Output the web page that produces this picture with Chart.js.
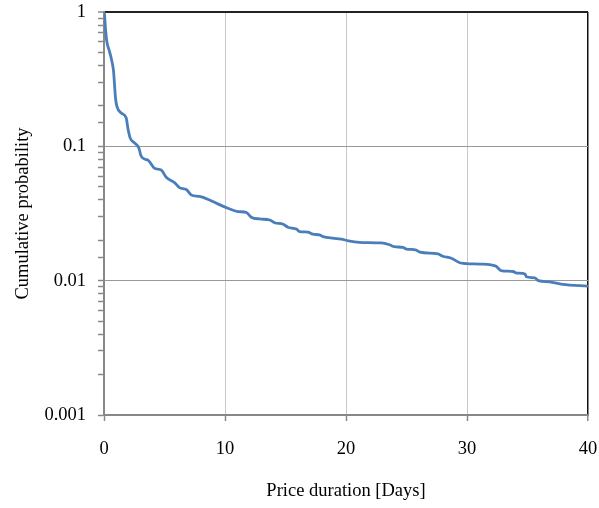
<!DOCTYPE html>
<html>
<head>
<meta charset="utf-8">
<script src="https://cdn.jsdelivr.net/npm/chart.js@4.4.1/dist/chart.umd.min.js"></script>
<style>
    html, body { margin: 0; padding: 0; background: #fff; }
    canvas { display: block; }
</style>
</head>
<body>
<canvas id="durationChart" width="599" height="508"></canvas>
<script>
// số liệu (ngày, xác suất tích lũy)
var days = [0, 0.04, 0.12, 0.23, 0.45, 0.68, 0.79, 0.87, 0.95, 1.06, 1.42, 1.83, 1.97, 2.16, 2.52, 2.88, 3.07, 3.49,
    3.62, 4.17, 4.73, 5.14, 5.83, 6.24, 6.8, 7.21, 7.9, 8.72, 9.41, 10.23, 11.06, 11.75, 12.17, 12.87, 13.7, 14.1,
    14.8, 15.2, 15.9, 16.17, 16.85, 17.26, 17.8, 18.1, 18.9, 19.6, 20.2, 21.1, 22.9, 23.6, 24.0, 24.7, 25.0, 25.8,
    26.1, 27.6, 28.0, 28.7, 29.4, 29.95, 31.06, 32.0, 32.4, 32.8, 33.8, 34.1, 34.8, 34.9, 35.6, 35.9, 36.8, 37.9, 40];
var probability = [1, 0.96, 0.76, 0.605, 0.51, 0.418, 0.362, 0.288, 0.229, 0.199, 0.177, 0.163, 0.137, 0.1156,
    0.106, 0.0973, 0.0844, 0.0796, 0.0792, 0.0687, 0.0667, 0.0589, 0.0537, 0.0493, 0.0477, 0.0435, 0.0424, 0.0399,
    0.0373, 0.0346, 0.0327, 0.0322, 0.0297, 0.0288, 0.0283, 0.027, 0.0263, 0.025, 0.0242, 0.0232, 0.023, 0.0222,
    0.0219, 0.0213, 0.0207, 0.0204, 0.0198, 0.0193, 0.0191, 0.0185, 0.0179, 0.0177, 0.0172, 0.0169, 0.0163, 0.0158,
    0.0152, 0.0147, 0.0136, 0.0134, 0.0133, 0.0131, 0.0128, 0.0119, 0.0117, 0.0114, 0.0112, 0.0107, 0.0105, 0.01,
    0.0098, 0.0094, 0.0091];

var xTickValues = [0, 10, 20, 30, 40];
var yTickValues = [0.001, 0.01, 0.1, 1];

var xTitle = 'Price duration [Days]';
var yTitle = 'Cumulative probability';

var fontFamily = "'Liberation Serif', 'Times New Roman', serif";

function isDecade(v) {
    return yTickValues.some(function (d) { return Math.abs(v - d) < d * 1e-6; });
}

var points = days.map(function (d, i) {
    return { x: d, y: probability[i] };
});

var ctx = document.getElementById('durationChart').getContext('2d');
new Chart(ctx, {
    type: 'line',
    data: {
        datasets: [{
            label: 'Cumulative probability',
            data: points,
            borderColor: '#4a7ebb',
            borderWidth: 2.8,
            pointRadius: 0,
            cubicInterpolationMode: 'monotone',
            fill: false
        }]
    },
    options: {
        responsive: false,
        animation: false,
        layout: {
            padding: { left: 0, top: 12, right: 11, bottom: 0 }
        },
        plugins: {
            legend: { display: false },
            tooltip: { enabled: false }
        },
        scales: {
            x: {
                type: 'linear',
                min: 0,
                max: 40,
                afterFit: function (scale) {
                    scale.height = 93;
                    scale.paddingLeft = 0;
                    scale.paddingRight = 0;
                },
                afterBuildTicks: function (scale) {
                    scale.ticks = xTickValues.map(function (v) { return { value: v }; });
                },
                border: { display: true, color: '#888', width: 2 },
                grid: {
                    color: function (c) {
                        return c.tick && c.tick.value === 40 ? '#111' : '#c8c8c8';
                    },
                    lineWidth: function (c) {
                        return c.tick && c.tick.value === 40 ? 1.5 : 1;
                    },
                    tickColor: '#888',
                    tickLength: 6,
                    tickWidth: 1.5
                },
                ticks: {
                    color: '#000',
                    padding: 17,
                    maxRotation: 0,
                    font: { family: fontFamily, size: 18.5 }
                },
                title: {
                    display: true,
                    text: xTitle,
                    color: '#000',
                    padding: { top: 10, bottom: 6 },
                    font: { family: fontFamily, size: 18.5 }
                }
            },
            y: {
                type: 'logarithmic',
                min: 0.001,
                max: 1,
                afterFit: function (scale) {
                    scale.width = 104;
                    scale.paddingTop = 0;
                    scale.paddingBottom = 0;
                },
                border: { display: true, color: '#888', width: 2 },
                grid: {
                    color: function (c) {
                        if (!c.tick) return 'rgba(0,0,0,0)';
                        if (c.tick.value === 1) return '#222';
                        return isDecade(c.tick.value) ? '#999' : 'rgba(0,0,0,0)';
                    },
                    lineWidth: function (c) {
                        return c.tick && c.tick.value === 1 ? 2 : 1;
                    },
                    tickColor: '#888',
                    tickLength: 6,
                    tickWidth: 1.5
                },
                ticks: {
                    autoSkip: false,
                    color: '#000',
                    padding: 12,
                    font: { family: fontFamily, size: 18.5 },
                    callback: function (value) {
                        return isDecade(value) ? String(Number(value.toPrecision(1))) : '';
                    }
                },
                title: {
                    display: true,
                    text: yTitle,
                    color: '#000',
                    padding: { top: 12, bottom: 0 },
                    font: { family: fontFamily, size: 18.5 }
                }
            }
        }
    }
});
</script>
</body>
</html>
